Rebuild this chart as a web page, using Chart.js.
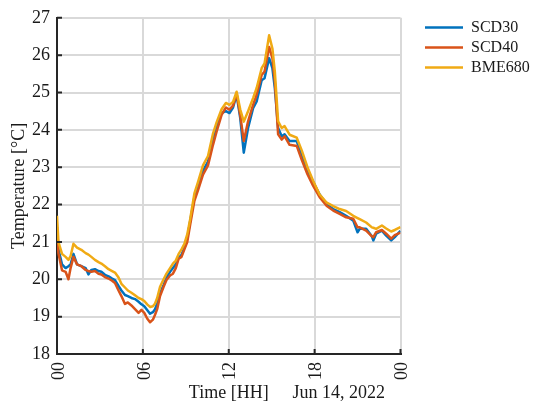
<!DOCTYPE html>
<html>
<head>
<meta charset="utf-8">
<script src="https://cdn.jsdelivr.net/npm/chart.js@4.4.1/dist/chart.umd.min.js"></script>
<style>
  html, body { margin: 0; padding: 0; background: #fff; }
</style>
</head>
<body>
<canvas id="c" width="535" height="407"></canvas>
<script>
// Hour of day for each sample (Jun 14, 2022)
const hours = [
  0, 0.1, 0.35, 0.6, 0.8, 0.95, 1.15, 1.4, 1.7, 2.0,
  2.2, 2.4, 2.65, 2.9, 3.1, 3.35, 3.6, 3.85, 4.05, 4.3,
  4.5, 4.75, 4.95, 5.2, 5.45, 5.7, 5.9, 6.1, 6.3, 6.5,
  6.7, 6.85, 7.0, 7.2, 7.45, 7.65, 7.9, 8.1, 8.3, 8.5,
  8.7, 8.9, 9.1, 9.3, 9.6, 9.85, 10.2, 10.55, 10.9, 11.15,
  11.5, 11.8, 12.05, 12.3, 12.55, 12.8, 13.05, 13.35, 13.7, 13.95,
  14.3, 14.5, 14.82, 15.05, 15.22, 15.45, 15.7, 15.9, 16.25, 16.75,
  17.1, 17.5, 17.9, 18.35, 18.85, 19.3, 19.75, 20.2, 20.7, 21.0,
  21.15, 21.6, 22.0, 22.1, 22.3, 22.7, 23.0, 23.35, 23.6, 24
];

// Temperature readings [°C]
const scd30 = [
  21.4, 20.8, 20.4, 20.3, 20.35, 20.4, 20.68, 20.4, 20.35, 20.3,
  20.13, 20.25, 20.27, 20.22, 20.2, 20.12, 20.08, 20.02, 19.98, 19.82,
  19.7, 19.58, 19.55, 19.5, 19.47, 19.4, 19.33, 19.28, 19.18, 19.08,
  19.12, 19.2, 19.35, 19.62, 19.85, 20.05, 20.2, 20.3, 20.4, 20.58,
  20.65, 20.85, 21.1, 21.55, 22.2, 22.5, 22.9, 23.15, 23.75, 24.05,
  24.45, 24.5, 24.45, 24.6, 24.94, 24.32, 23.39, 24.05, 24.58, 24.76,
  25.33, 25.38, 25.92, 25.65, 25.12, 24.05, 23.83, 23.88, 23.7, 23.7,
  23.3, 22.92, 22.6, 22.27, 22.0, 21.88, 21.8, 21.7, 21.57, 21.26,
  21.35, 21.35, 21.15, 21.04, 21.22, 21.3, 21.17, 21.04, 21.13, 21.3
];
const scd40 = [
  21.26, 20.7, 20.24, 20.2, 20.0, 20.3, 20.6, 20.4, 20.35, 20.25,
  20.22, 20.2, 20.22, 20.15, 20.13, 20.06, 20.02, 19.96, 19.9, 19.7,
  19.55, 19.34, 19.38, 19.3, 19.2, 19.1, 19.18, 19.1, 18.95, 18.85,
  18.92, 19.05, 19.2, 19.55, 19.8, 19.98, 20.1, 20.15, 20.3, 20.55,
  20.6, 20.8, 21.0, 21.45, 22.1, 22.38, 22.8, 23.05, 23.6, 23.95,
  24.4, 24.6, 24.54, 24.65, 24.98, 24.4, 23.7, 24.23, 24.67, 24.94,
  25.47, 25.56, 26.22, 25.92, 25.3, 23.88, 23.74, 23.83, 23.6, 23.57,
  23.2, 22.81, 22.5, 22.2, 21.96, 21.84, 21.75, 21.66, 21.62, 21.39,
  21.39, 21.3, 21.15, 21.13, 21.26, 21.32, 21.22, 21.09, 21.18, 21.25
];
const bme680 = [
  21.7, 21.0, 20.68, 20.6, 20.52, 20.62, 20.95, 20.85, 20.79, 20.7,
  20.66, 20.6, 20.52, 20.46, 20.42, 20.35, 20.27, 20.22, 20.18, 20.05,
  19.88, 19.78, 19.7, 19.64, 19.57, 19.5, 19.47, 19.42, 19.33, 19.26,
  19.28, 19.35, 19.5, 19.8, 20.0, 20.15, 20.3, 20.42, 20.5, 20.68,
  20.8, 20.95, 21.2, 21.6, 22.3, 22.6, 23.05, 23.3, 23.9, 24.2,
  24.55, 24.72, 24.67, 24.75, 25.02, 24.55, 24.22, 24.5, 24.85, 25.12,
  25.65, 25.78, 26.53, 26.18, 25.56, 24.23, 24.05, 24.1, 23.87, 23.79,
  23.45, 23.0, 22.63, 22.27, 22.05, 21.96, 21.88, 21.83, 21.7, 21.64,
  21.61, 21.52, 21.39, 21.38, 21.35, 21.44, 21.36, 21.28, 21.32, 21.4
];

const seriesNames = ['SCD30', 'SCD40', 'BME680'];
const dateLabel = 'Jun 14, 2022';

const SERIF = "'Liberation Serif', 'Times New Roman', serif";
const INK = '#1a1a1a';
const AXIS = '#262626';
const GRID = '#d9d9d9';
const LINE_W = 2.5;

const toPoints = vals => hours.map((h, i) => ({ x: h, y: vals[i] }));
const hourLabel = v => String(((Math.round(v) % 24) + 24) % 24).padStart(2, '0');

// Inward tick marks, rotated hour labels and the date stamp under the time axis
const axisDecor = {
  id: 'axisDecor',
  afterDraw(chart) {
    const { ctx, chartArea: a, scales: { x, y } } = chart;
    ctx.save();
    ctx.strokeStyle = AXIS;
    ctx.lineWidth = 2;
    ctx.beginPath();
    y.ticks.forEach(t => {
      const py = y.getPixelForValue(t.value);
      ctx.moveTo(a.left, py); ctx.lineTo(a.left + 5, py);
    });
    x.ticks.forEach(t => {
      const px = x.getPixelForValue(t.value);
      ctx.moveTo(px, a.bottom); ctx.lineTo(px, a.bottom - 5);
    });
    ctx.stroke();

    ctx.fillStyle = INK;
    ctx.font = `18px ${SERIF}`;
    ctx.textAlign = 'center';
    ctx.textBaseline = 'middle';
    x.ticks.forEach(t => {
      const px = x.getPixelForValue(t.value);
      ctx.save();
      ctx.translate(px + 2, a.bottom + 17);
      ctx.rotate(-Math.PI / 2);
      ctx.fillText(hourLabel(t.value), 0, 0);
      ctx.restore();
    });

    ctx.textAlign = 'right';
    ctx.fillText(dateLabel, x.right - 15.5, 393);
    ctx.restore();
  }
};

new Chart(document.getElementById('c'), {
  type: 'line',
  data: {
    datasets: [
      { label: seriesNames[0], data: toPoints(scd30), borderColor: '#0072BD', backgroundColor: '#0072BD', borderWidth: LINE_W, order: 2 },
      { label: seriesNames[1], data: toPoints(scd40), borderColor: '#D95319', backgroundColor: '#D95319', borderWidth: LINE_W, order: 1 },
      { label: seriesNames[2], data: toPoints(bme680), borderColor: '#F0AA14', backgroundColor: '#F0AA14', borderWidth: LINE_W, order: 0 }
    ]
  },
  options: {
    responsive: false,
    animation: false,
    devicePixelRatio: 1,
    layout: { padding: { top: 15.6, right: 0, bottom: 0, left: 0 } },
    elements: {
      point: { radius: 0 },
      line: { tension: 0, borderJoinStyle: 'round' }
    },
    scales: {
      x: {
        type: 'linear',
        min: 0, max: 24,
        ticks: { display: false, stepSize: 6 },
        grid: { color: GRID, lineWidth: 2, drawTicks: false },
        border: { display: true, color: AXIS, width: 2 },
        title: {
          display: true, text: 'Time [HH]', color: INK,
          font: { family: SERIF, size: 18 }, padding: { top: 0, bottom: 3 }
        },
        afterFit(s) { s.height = 53; }
      },
      y: {
        min: 18, max: 27,
        ticks: { stepSize: 1, color: INK, padding: 7, font: { family: SERIF, size: 18 } },
        grid: { color: GRID, lineWidth: 2, drawTicks: false },
        border: { display: true, color: AXIS, width: 2 },
        title: {
          display: true, text: 'Temperature [°C]', color: INK,
          font: { family: SERIF, size: 18 }, padding: { top: 8, bottom: 0 }
        },
        afterFit(s) { s.width = 57; }
      },
      gap: {
        position: 'right',
        display: true,
        grid: { display: false },
        ticks: { display: false },
        border: { display: false },
        afterFit(s) { s.width = 20.5; }
      }
    },
    plugins: {
      tooltip: { enabled: false },
      legend: {
        position: 'right',
        align: 'start',
        maxWidth: 114,
        labels: {
          usePointStyle: true,
          pointStyle: 'line',
          pointStyleWidth: 38,
          padding: 4,
          color: INK,
          font: { family: SERIF, size: 16 },
          sort: (a, b) => a.datasetIndex - b.datasetIndex
        }
      }
    }
  },
  plugins: [axisDecor]
});
</script>
</body>
</html>
